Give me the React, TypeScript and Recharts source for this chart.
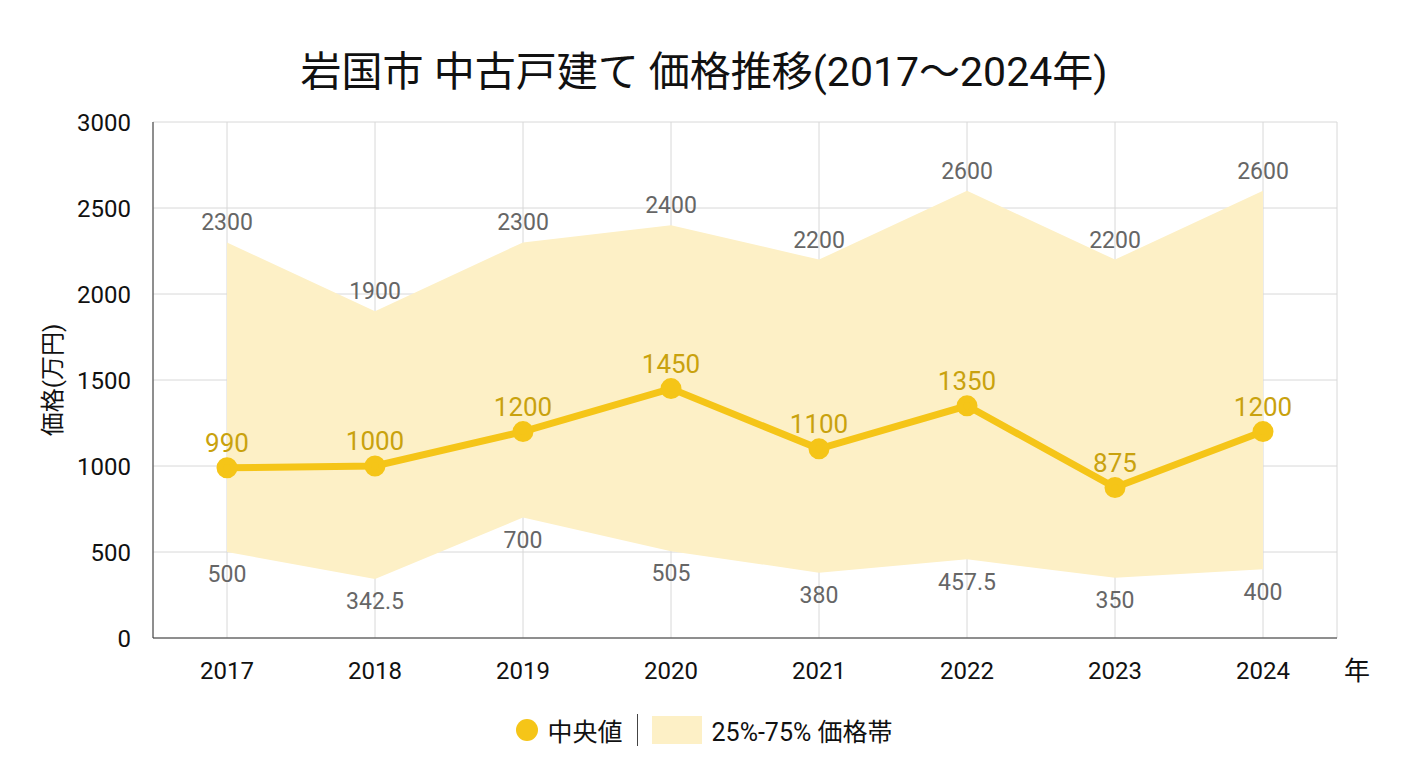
import React from "react";
import {
  ComposedChart,
  Line,
  Area,
  XAxis,
  YAxis,
  CartesianGrid,
  LabelList,
} from "recharts";

const years = ["2017", "2018", "2019", "2020", "2021", "2022", "2023", "2024"];
const median = [990, 1000, 1200, 1450, 1100, 1350, 875, 1200];
const low = [500, 342.5, 700, 505, 380, 457.5, 350, 400];
const high = [2300, 1900, 2300, 2400, 2200, 2600, 2200, 2600];
const yTicks = [0, 500, 1000, 1500, 2000, 2500, 3000];

const data = years.map((y, i) => ({
  year: y,
  median: median[i],
  low: low[i],
  high: high[i],
  range: [low[i], high[i]],
}));

const font = "Roboto, 'Noto Sans CJK JP', sans-serif";
const gold = "#f5c518";

const App = () => {
  return (
    <div style={{ position: "relative", width: 1392, height: 752, fontFamily: font }}>
      <div
        style={{
          position: "absolute",
          top: 30,
          left: 0,
          width: 1392,
          textAlign: "center",
          fontSize: 41,
          color: "#111",
        }}
      >
        岩国市 中古戸建て 価格推移(2017〜2024年)
      </div>
      <div
        style={{
          position: "absolute",
          left: 42,
          top: 372,
          transform: "translate(-50%, -50%) rotate(-90deg)",
          fontSize: 24,
          color: "#111",
          whiteSpace: "nowrap",
        }}
      >
        価格(万円)
      </div>
      <div style={{ position: "absolute", left: 1336, top: 642, fontSize: 26, color: "#111" }}>年</div>
      <ComposedChart
        width={1392}
        height={752}
        data={data}
        margin={{ top: 114, right: 63, left: 0, bottom: 57 }}
      >
        <CartesianGrid stroke="#d8d8d8" />
        <XAxis
          dataKey="year"
          padding={{ left: 74, right: 74 }}
          tick={{ fontSize: 24, fill: "#111", fontFamily: font }}
          tickLine={false}
          axisLine={{ stroke: "#333" }}
          tickMargin={18}
          height={65}
        />
        <YAxis
          width={145}
          domain={[0, 3000]}
          ticks={yTicks}
          tick={{ fontSize: 24, fill: "#111", fontFamily: font }}
          tickLine={false}
          axisLine={{ stroke: "#333" }}
          tickMargin={16}
        />
        <Area
          dataKey="range"
          type="linear"
          stroke="none"
          fill="#fdf0c6"
          fillOpacity={1}
          isAnimationActive={false}
        />
        <Line dataKey="high" stroke="none" dot={false} isAnimationActive={false}>
          <LabelList dataKey="high" position="top" offset={12} fill="#666" fontSize={23} fontFamily={font} />
        </Line>
        <Line dataKey="low" stroke="none" dot={false} isAnimationActive={false}>
          <LabelList dataKey="low" position="bottom" offset={14} fill="#666" fontSize={23} fontFamily={font} />
        </Line>
        <Line
          dataKey="median"
          type="linear"
          stroke={gold}
          strokeWidth={7}
          dot={{ r: 7, fill: gold, stroke: gold }}
          isAnimationActive={false}
        >
          <LabelList dataKey="median" position="top" offset={16} fill="#c9a20e" fontSize={26} fontFamily={font} />
        </Line>
      </ComposedChart>
      <div
        style={{
          position: "absolute",
          top: 704,
          left: 0,
          width: 1392,
          display: "flex",
          justifyContent: "center",
          alignItems: "center",
          fontSize: 25,
          color: "#111",
        }}
      >
        <span style={{ width: 22, height: 22, borderRadius: 11, background: gold, marginRight: 10 }} />
        <span>中央値</span>
        <span style={{ width: 1, height: 32, background: "#444", margin: "0 14px" }} />
        <span style={{ width: 50, height: 28, background: "#fdf0c6", marginRight: 10 }} />
        <span>25%-75% 価格帯</span>
      </div>
    </div>
  );
};

export default App;
